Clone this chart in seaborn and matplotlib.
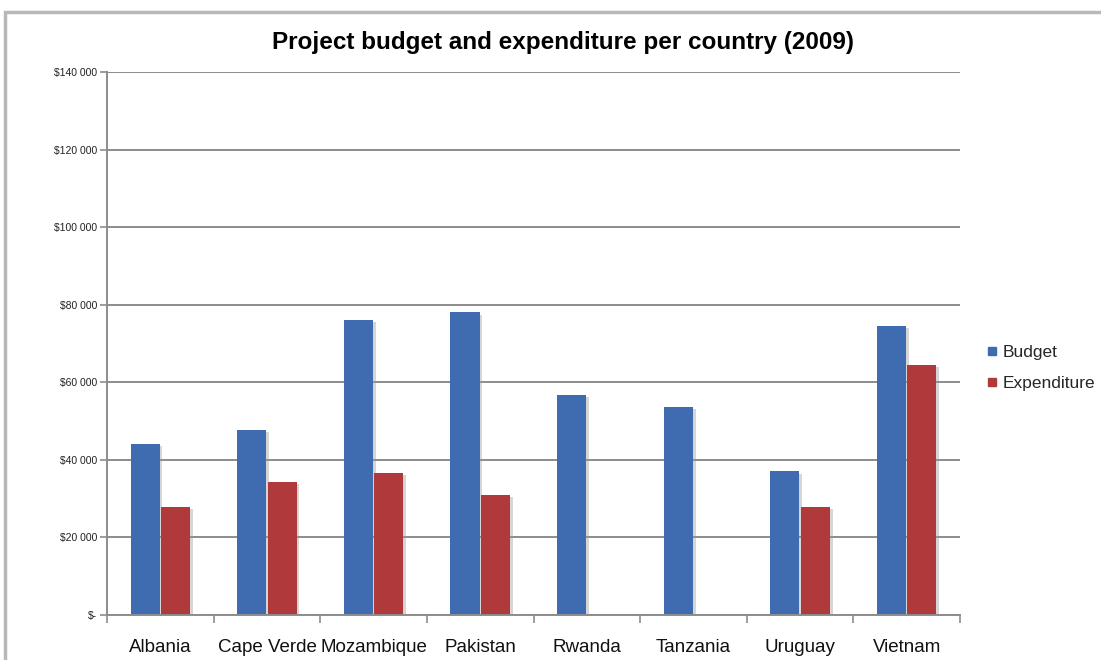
import matplotlib
matplotlib.use("Agg")
import matplotlib.pyplot as plt
import matplotlib.patheffects as pe
from matplotlib.ticker import FuncFormatter, FixedLocator
from matplotlib.lines import Line2D
from matplotlib.patches import Rectangle
import seaborn as sns
import pandas as pd

countries = ["Albania", "Cape Verde", "Mozambique", "Pakistan", "Rwanda", "Tanzania", "Uruguay", "Vietnam"]
budget = [44000, 47800, 76000, 78000, 56800, 53700, 37000, 74600]
expenditure = [27800, 34300, 36700, 31000, 0, 0, 27800, 64500]
series_names = ["Budget", "Expenditure"]
colors = ["#3F6CB0", "#B0393B"]
title = "Project budget and expenditure per country (2009)"

df = pd.DataFrame({
    "Country": countries * 2,
    "Series": [series_names[0]] * len(countries) + [series_names[1]] * len(countries),
    "Value": budget + expenditure,
})

sns.set_theme(style="white")
plt.rcParams["font.family"] = ["Liberation Sans", "DejaVu Sans"]

fig = plt.figure(figsize=(11.01, 6.6), dpi=100)
ax = fig.add_axes([107 / 1101, 1 - 615 / 660, (960 - 107) / 1101, (615 - 72) / 660])

sns.barplot(data=df, x="Country", y="Value", hue="Series", palette=colors,
            width=0.57, gap=0.04, saturation=1, ax=ax, legend=False,
            order=countries, hue_order=series_names)

for p in ax.patches:
    p.set_linewidth(0)
    p.set_path_effects([pe.SimplePatchShadow(offset=(2, -1.5), shadow_rgbFace="#999999", alpha=0.4),
                        pe.Normal()])

ax.set_ylim(0, 140000)
ax.set_xlim(-0.5, len(countries) - 0.5)
ax.yaxis.set_major_locator(FixedLocator(list(range(0, 140001, 20000))))

def fmt(v, pos):
    if v == 0:
        return "$-"
    return "$" + f"{int(v):,}".replace(",", " ")

ax.yaxis.set_major_formatter(FuncFormatter(fmt))
ax.grid(axis="y", color="#8c8c8c", linewidth=1.4)
ax.set_axisbelow(True)
for s in ["top", "right"]:
    ax.spines[s].set_visible(False)
for s in ["left", "bottom"]:
    ax.spines[s].set_color("#8c8c8c")
    ax.spines[s].set_linewidth(1.4)

ax.set_xlabel("")
ax.set_ylabel("")
ax.tick_params(axis="y", which="major", left=True, length=5, width=1.2, color="#8c8c8c",
               labelsize=7.5, labelcolor="#222222", pad=2)
ax.tick_params(axis="x", which="major", bottom=False, labelsize=13.5, labelcolor="#111111", pad=11)
ax.set_xticks([i - 0.5 for i in range(len(countries) + 1)], minor=True)
ax.tick_params(axis="x", which="minor", bottom=True, length=6, width=1.2, color="#8c8c8c")

fig.text(0.511, 1 - 43 / 660, title, ha="center", va="center",
         fontsize=17.5, fontweight="bold", color="#000000")

handles = [Line2D([0], [0], marker="s", linestyle="", markersize=6,
                  markerfacecolor=c, markeredgecolor=c) for c in colors]
fig.legend(handles, series_names, loc="upper left", bbox_to_anchor=(980 / 1101, 1 - 338 / 660),
           frameon=False, fontsize=12.5, handlelength=0.6, handletextpad=0.3,
           labelspacing=0.9, borderaxespad=0)

fig.patches.append(Rectangle((5 / 1101, -0.1), 1.2, 1 - 12 / 660 + 0.1, transform=fig.transFigure,
                             fill=False, edgecolor="#b8b8b8", linewidth=2.5, figure=fig))

fig.savefig("out.png", dpi=100, facecolor="white")
